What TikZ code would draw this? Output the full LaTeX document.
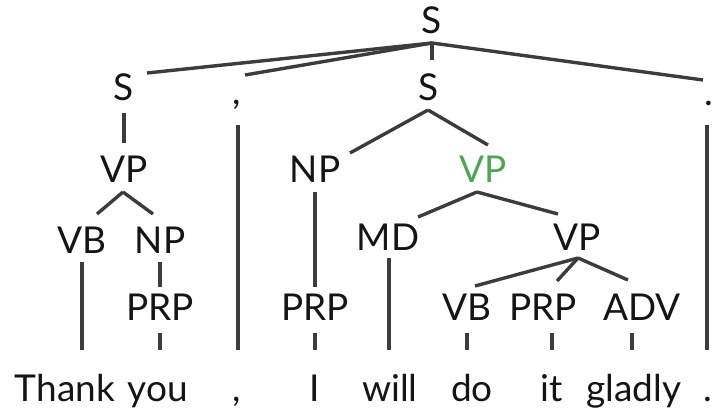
\documentclass[tikz,border=0pt]{standalone}
\usepackage{fontspec}
\setmainfont{Lato}
\usetikzlibrary{calc}
\definecolor{edgecol}{HTML}{3C3C3C}
\definecolor{txtcol}{HTML}{151515}
\definecolor{headgreen}{RGB}{76,168,80}
\tikzset{
  lab/.style={inner sep=0pt, outer sep=0pt, anchor=base, text=txtcol, font=\fontsize{37}{40}\selectfont},
  word/.style={lab},
  edge/.style={draw=edgecol, line width=3.4pt},
}
\begin{document}
\begin{tikzpicture}[x=1pt,y=-1pt]
\useasboundingbox (0,0) rectangle (712,415);
% labels
\node[lab] (S0) at (432,33) {S};
\node[lab] (S1) at (124,100) {S};
\node[lab] (C1) at (237,104) {,};
\node[lab] (S2) at (429,100) {S};
\node[lab] (P1) at (709,105) {.};
\node[lab] (VP1) at (124,182) {VP};
\node[lab] (NP2) at (315,182) {NP};
\node[lab, text=headgreen] (VP2) at (483,182) {VP};
\node[lab] (VB1) at (82,253) {VB};
\node[lab] (NP1) at (160,253) {NP};
\node[lab] (MD) at (388,250) {MD};
\node[lab] (VP3) at (577,250) {VP};
\node[lab] (PRP1) at (160,320) {PRP};
\node[lab] (PRP2) at (315,320) {PRP};
\node[lab] (VB2) at (467,320) {VB};
\node[lab] (PRP3) at (543,320) {PRP};
\node[lab] (ADV) at (642,320) {ADV};
% words
\node[word] (wThank) at (65,401) {Thank};
\node[word] (wyou) at (158,401) {you};
\node[word] (wcomma) at (237,401) {,};
\node[word] (wI) at (315,401) {I};
\node[word] (wwill) at (390,401) {will};
\node[word] (wdo) at (472,401) {do};
\node[word] (wit) at (552,401) {it};
\node[word] (wgladly) at (634,401) {gladly};
\node[word] (wperiod) at (708,401) {.};
% edges
\draw[edge] ($(S0.base)+(0,10)$) -- ($(S1.base)+(23,-27)$);
\draw[edge] ($(S0.base)+(0,10)$) -- ($(C1.base)+(8,-29)$);
\draw[edge] ($(S0.base)+(0,10)$) -- ($(S2.base)+(3,-40)$);
\draw[edge] ($(S0.base)+(0,10)$) -- ($(P1.base)+(-6,-25)$);
\draw[edge] ($(S1.base)+(0,13)$) -- ($(VP1.base)+(0,-39)$);
\draw[edge] ($(VP1.base)+(-1,10)$) -- ($(VB1.base)+(15,-39)$);
\draw[edge] ($(VP1.base)+(-1,10)$) -- ($(NP1.base)+(-7,-39)$);
\draw[edge] ($(VB1.base)+(0,9)$) -- ($(wThank.base)+(17,-51)$);
\draw[edge] ($(NP1.base)+(0,9)$) -- ($(PRP1.base)+(0,-33)$);
\draw[edge] ($(PRP1.base)+(0,13)$) -- ($(wyou.base)+(2,-51)$);
\draw[edge] ($(C1.base)+(1,21)$) -- ($(wcomma.base)+(1,-51)$);
\draw[edge] ($(S2.base)+(-1,10)$) -- ($(NP2.base)+(35,-29)$);
\draw[edge] ($(S2.base)+(-1,10)$) -- ($(VP2.base)+(5,-37)$);
\draw[edge] ($(NP2.base)+(0,10)$) -- ($(PRP2.base)+(0,-33)$);
\draw[edge] ($(PRP2.base)+(0,13)$) -- ($(wI.base)+(0,-51)$);
\draw[edge] ($(VP2.base)+(-6,10)$) -- ($(MD.base)+(30,-33)$);
\draw[edge] ($(VP2.base)+(-6,10)$) -- ($(VP3.base)+(-19,-36)$);
\draw[edge] ($(MD.base)+(1,8)$) -- ($(wwill.base)+(-1,-51)$);
\draw[edge] ($(VP3.base)+(1,8)$) -- ($(VB2.base)+(8,-34)$);
\draw[edge] ($(VP3.base)+(1,8)$) -- ($(PRP3.base)+(14,-39)$);
\draw[edge] ($(VP3.base)+(1,8)$) -- ($(ADV.base)+(-14,-40)$);
\draw[edge] ($(VB2.base)+(0,13)$) -- ($(wdo.base)+(-5,-51)$);
\draw[edge] ($(PRP3.base)+(9,13)$) -- ($(wit.base)+(0,-51)$);
\draw[edge] ($(ADV.base)+(-10,13)$) -- ($(wgladly.base)+(-2,-51)$);
\draw[edge] ($(P1.base)+(-2,20)$) -- ($(wperiod.base)+(-1,-51)$);
\end{tikzpicture}
\end{document}
